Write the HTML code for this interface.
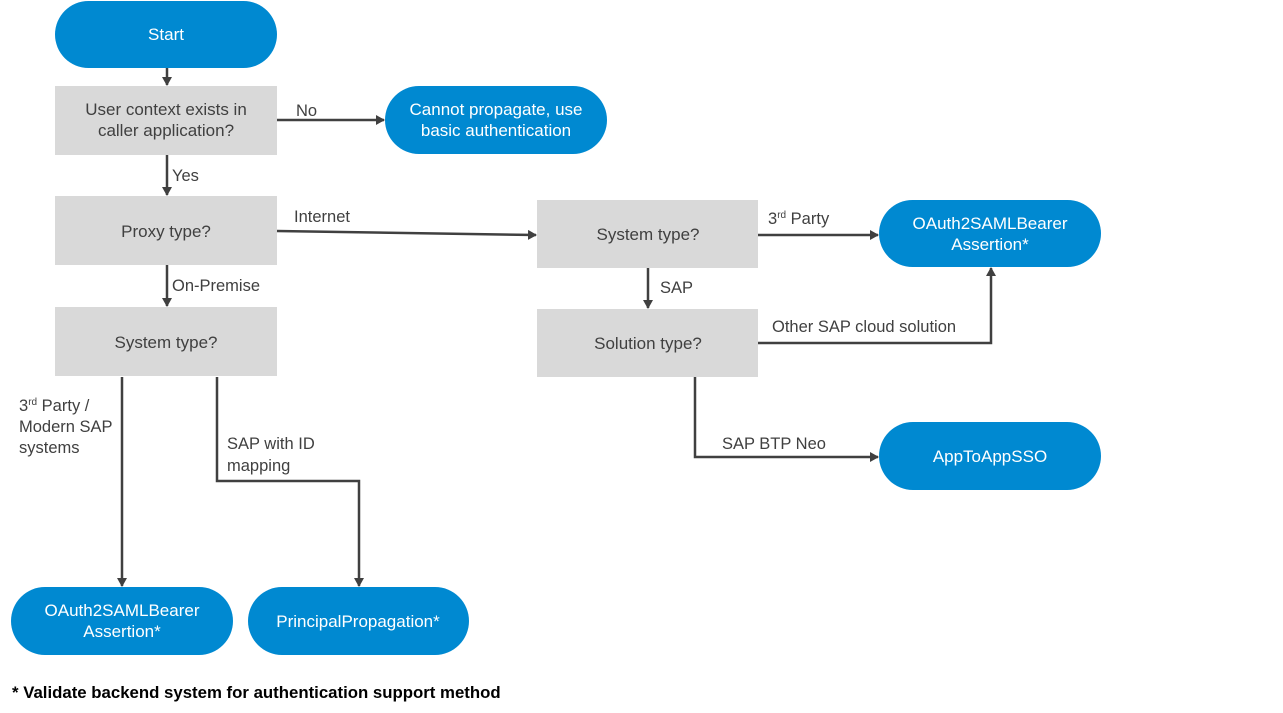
<!DOCTYPE html>
<html><head><meta charset="utf-8"><style>
body{margin:0;background:#fff;}
svg{display:block;font-family:"Liberation Sans",sans-serif;}
.b{fill:#0089d1}.g{fill:#d9d9d9}
.tw{fill:#fff;font-size:17px;text-anchor:middle}
.tg{fill:#404040;font-size:17px;text-anchor:middle}
.l{fill:#404040;font-size:16.5px}
.ln{stroke:#404040;stroke-width:2.5;fill:none}
</style></head><body>
<svg width="1283" height="713" viewBox="0 0 1283 713">
<defs><marker id="a" markerWidth="10" markerHeight="10" refX="8" refY="5" orient="auto" markerUnits="userSpaceOnUse"><path d="M0,0 L9,5 L0,10 Z" fill="#404040"/></marker></defs>
<rect class="b" x="55" y="1" width="222" height="67" rx="33.5"/>
<text class="tw" x="166" y="40">Start</text>
<rect class="g" x="55" y="86" width="222" height="69"/>
<text class="tg" x="166" y="115">User context exists in</text>
<text class="tg" x="166" y="136">caller application?</text>
<rect class="b" x="385" y="86" width="222" height="68" rx="34"/>
<text class="tw" x="496" y="115">Cannot propagate, use</text>
<text class="tw" x="496" y="136">basic authentication</text>
<rect class="g" x="55" y="196" width="222" height="69"/>
<text class="tg" x="166" y="237">Proxy type?</text>
<rect class="g" x="55" y="307" width="222" height="69"/>
<text class="tg" x="166" y="348">System type?</text>
<rect class="g" x="537" y="200" width="221" height="68"/>
<text class="tg" x="648" y="240">System type?</text>
<rect class="g" x="537" y="309" width="221" height="68"/>
<text class="tg" x="648" y="349">Solution type?</text>
<rect class="b" x="879" y="200" width="222" height="67" rx="33.5"/>
<text class="tw" x="990" y="229">OAuth2SAMLBearer</text>
<text class="tw" x="990" y="250">Assertion*</text>
<rect class="b" x="879" y="422" width="222" height="68" rx="34"/>
<text class="tw" x="990" y="462">AppToAppSSO</text>
<rect class="b" x="11" y="587" width="222" height="68" rx="34"/>
<text class="tw" x="122" y="616">OAuth2SAMLBearer</text>
<text class="tw" x="122" y="637">Assertion*</text>
<rect class="b" x="248" y="587" width="221" height="68" rx="34"/>
<text class="tw" x="358" y="627">PrincipalPropagation*</text>

<path class="ln" d="M167 68 V85" marker-end="url(#a)"/>
<path class="ln" d="M277 120 H384" marker-end="url(#a)"/>
<path class="ln" d="M167 155 V195" marker-end="url(#a)"/>
<path class="ln" d="M277 231 L536 235" marker-end="url(#a)"/>
<path class="ln" d="M167 265 V306" marker-end="url(#a)"/>
<path class="ln" d="M758 235 H878" marker-end="url(#a)"/>
<path class="ln" d="M648 268 V308" marker-end="url(#a)"/>
<path class="ln" d="M758 343 H991 V268" marker-end="url(#a)"/>
<path class="ln" d="M695 377 V457 H878" marker-end="url(#a)"/>
<path class="ln" d="M122 377 V586" marker-end="url(#a)"/>
<path class="ln" d="M217 377 V481 H359 V586" marker-end="url(#a)"/>

<text class="l" x="296" y="116">No</text>
<text class="l" x="172" y="181">Yes</text>
<text class="l" x="294" y="222">Internet</text>
<text class="l" x="172" y="291">On-Premise</text>
<text class="l" x="768" y="224">3<tspan font-size="10" dy="-6">rd</tspan><tspan dy="6"> Party</tspan></text>
<text class="l" x="660" y="293">SAP</text>
<text class="l" x="772" y="332">Other SAP cloud solution</text>
<text class="l" x="722" y="449">SAP BTP Neo</text>
<text class="l" x="19" y="411">3<tspan font-size="10" dy="-6">rd</tspan><tspan dy="6"> Party /</tspan></text>
<text class="l" x="19" y="432">Modern SAP</text>
<text class="l" x="19" y="453">systems</text>
<text class="l" x="227" y="449">SAP with ID</text>
<text class="l" x="227" y="471">mapping</text>
<text x="12" y="698" font-size="16.8" font-weight="bold" fill="#000">* Validate backend system for authentication support method</text>
</svg>
</body></html>
